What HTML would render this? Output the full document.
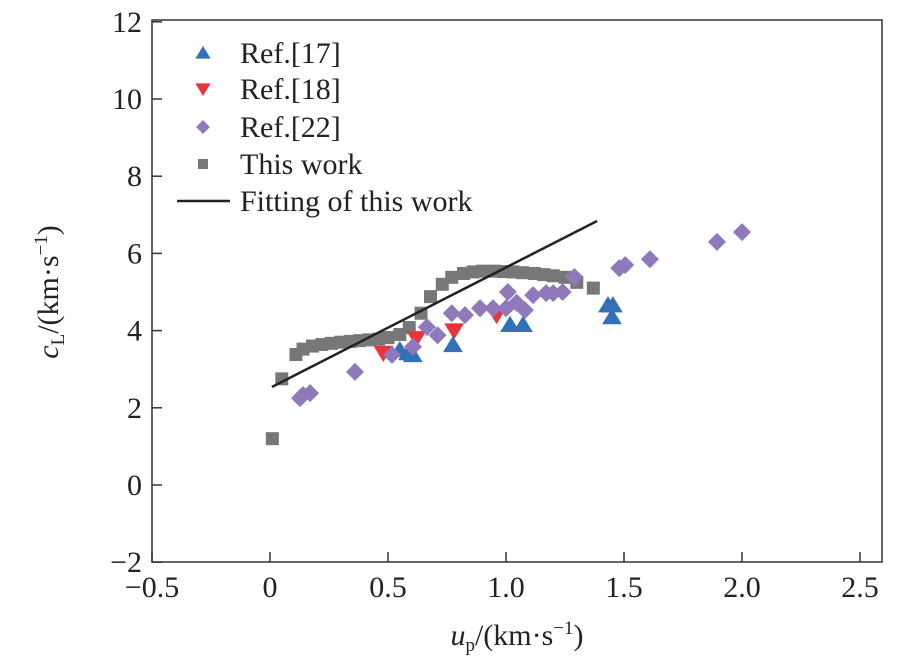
<!DOCTYPE html>
<html><head><meta charset="utf-8"><style>
body{margin:0;background:#fff;}
svg text{font-family:"Liberation Serif",serif;fill:#222;}
</style></head><body>
<svg width="921" height="661" viewBox="0 0 921 661">
<g id="axes"></g>
<g id="marks"></g>
<g id="legend"></g>
</svg>
<script>
const xTicks=[-0.5,0,0.5,1.0,1.5,2.0,2.5];
const xTickLabels=["\u22120.5","0","0.5","1.0","1.5","2.0","2.5"];
const yTicks=[-2,0,2,4,6,8,10,12];
const yTickLabels=["\u22122","0","2","4","6","8","10","12"];
const workU=[0.01,0.05,0.11,0.14,0.18,0.22,0.26,0.30,0.34,0.38,0.42,0.46,0.50,0.55,0.59,0.64,0.68,0.73,0.77,0.82,0.86,0.90,0.95,0.99,1.03,1.07,1.12,1.16,1.20,1.25,1.30,1.37];
const workC=[1.2,2.75,3.38,3.52,3.6,3.64,3.67,3.7,3.72,3.74,3.76,3.78,3.82,3.9,4.08,4.45,4.88,5.2,5.38,5.48,5.52,5.54,5.54,5.53,5.52,5.5,5.48,5.45,5.42,5.38,5.25,5.1];
const ref17U=[0.55,0.585,0.605,0.775,1.017,1.072,1.432,1.453,1.449];
const ref17C=[3.5,3.42,3.37,3.63,4.15,4.15,4.66,4.66,4.35];
const ref18U=[0.48,0.62,0.78,0.96];
const ref18C=[3.42,3.8,4.0,4.4];
const ref22U=[0.127,0.14,0.17,0.36,0.517,0.606,0.665,0.71,0.77,0.826,0.89,0.945,1.0,1.008,1.045,1.08,1.115,1.17,1.2,1.24,1.29,1.48,1.505,1.61,1.894,2.0];
const ref22C=[2.25,2.33,2.38,2.93,3.37,3.58,4.09,3.88,4.45,4.4,4.58,4.58,4.58,5.0,4.72,4.53,4.92,4.97,4.97,5.0,5.39,5.62,5.7,5.85,6.3,6.55];
const fitU=[0.008,1.386];
const fitC=[2.54,6.84];

const NS="http://www.w3.org/2000/svg";
const L=152,R=882,T=20,B=562;
const X=u=>270+236*u;
const Y=c=>485-38.6*c;
function mk(tag,attrs,parent,txt){const e=document.createElementNS(NS,tag);for(const k in attrs)e.setAttribute(k,attrs[k]);if(txt!==undefined)e.textContent=txt;parent.appendChild(e);return e;}
const axes=document.getElementById('axes'),marks=document.getElementById('marks'),leg=document.getElementById('legend');
let f=mk('rect',{x:L,y:T,width:R-L,height:B-T,fill:'none',stroke:'#333','stroke-width':1.5},axes);


xTicks.forEach((v,i)=>{
 let t=mk('line',{x1:X(v),x2:X(v),y1:B,y2:B-10,stroke:'#333','stroke-width':1.5},axes);
 
 
 let s=mk('text',{x:X(v),y:B+35,'text-anchor':'middle','font-size':30},axes,xTickLabels[i]);
 
 
});
yTicks.forEach((v,i)=>{
 let t=mk('line',{x1:L,x2:L+10,y1:Y(v),y2:Y(v),stroke:'#333','stroke-width':1.5},axes);
 
 
 let s=mk('text',{x:L-10,y:Y(v)+10,'text-anchor':'end','font-size':30},axes,yTickLabels[i]);
 
 
});
let xt=mk('text',{x:517,y:645,'text-anchor':'middle','font-size':30},axes);
xt.innerHTML='<tspan font-style="italic">u</tspan><tspan font-size="19" dy="6">p</tspan><tspan dy="-6">/(km·s</tspan><tspan font-size="19" dy="-11">−1</tspan><tspan dy="11">)</tspan>';


let yt=mk('text',{x:0,y:0,'text-anchor':'middle','font-size':30,transform:'translate(58,292) rotate(-90)'},axes);
yt.innerHTML='<tspan font-style="italic">c</tspan><tspan font-size="19" dy="6">L</tspan><tspan dy="-6">/(km·s</tspan><tspan font-size="19" dy="-11">−1</tspan><tspan dy="11">)</tspan>';



function sq(x,y,s,p){return mk('rect',{x:x-s,y:y-s,width:2*s,height:2*s,fill:'#77777a'},p);}
function up(x,y,s,p){return mk('polygon',{points:`${x},${y-s} ${x+s*1.1},${y+s*0.8} ${x-s*1.1},${y+s*0.8}`,fill:'#3470b8'},p);}
function dn(x,y,s,p){return mk('polygon',{points:`${x},${y+s} ${x+s*1.1},${y-s*0.8} ${x-s*1.1},${y-s*0.8}`,fill:'#e8343a'},p);}
function dia(x,y,s,p){return mk('polygon',{points:`${x},${y-s} ${x+s},${y} ${x},${y+s} ${x-s},${y}`,fill:'#9079bb'},p);}

workU.forEach((u,i)=>{let e=sq(X(u),Y(workC[i]),6.5,marks);
 
 });
let fl=mk('line',{x1:X(fitU[0]),y1:Y(fitC[0]),x2:X(fitU[1]),y2:Y(fitC[1]),stroke:'#222','stroke-width':2.5},marks);


ref18U.forEach((u,i)=>{let e=dn(X(u),Y(ref18C[i]),9,marks);
 
 });
ref17U.forEach((u,i)=>{let e=up(X(u),Y(ref17C[i]),9,marks);
 
 });
ref22U.forEach((u,i)=>{let e=dia(X(u),Y(ref22C[i]),9,marks);
 
 });

const rows=[['Ref.[17]',up,53],['Ref.[18]',dn,89],['Ref.[22]',dia,127],['This work',sq,164]];
rows.forEach(r=>{
 let m=r[1](203,r[2],r[1]===sq?5:7,leg);
 
 
 let t=mk('text',{x:240,y:r[2]+10,'font-size':30},leg,r[0]);
 
 
});
let ll=mk('line',{x1:177,x2:230,y1:201,y2:201,stroke:'#222','stroke-width':2.5},leg);


let lt=mk('text',{x:240,y:211,'font-size':30},leg,'Fitting of this work');


</script>
</body></html>
